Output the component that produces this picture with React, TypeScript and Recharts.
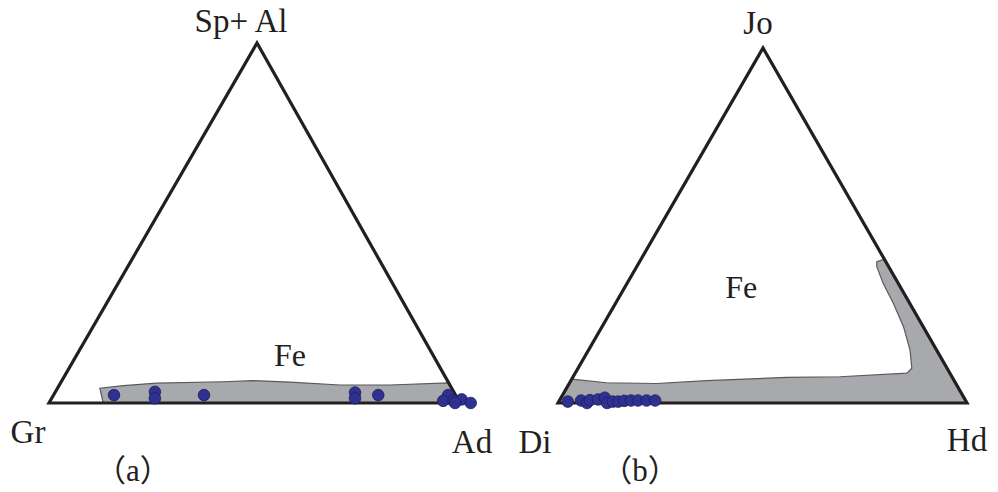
import React from 'react';
import { ScatterChart, Scatter, XAxis, YAxis } from 'recharts';

// ---------- Diagram (a): Gr – Ad – Sp+Al (garnet) ----------
const aCornerLabels = ['Gr', 'Ad', 'Sp+ Al'];
const aFieldLabel = 'Fe';
const aCaption = '（a）';
// sample compositions (%): Ad and Sp+Al (Gr = 100 - Ad - Sp+Al)
const aAd = [14.7, 24.2, 25.1, 36.6, 73.0, 73.8, 79.0, 96.0, 95.6, 98.1, 99.9, 98.8, 102.6];
const aSpAl = [2.2, 3.1, 1.3, 2.2, 2.9, 1.3, 2.2, 2.2, 0.6, 0.6, 1.0, 0, 0];
// Fe skarn field outline
const aFieldAd = [13.2, 10.3, 15.7, 23.4, 39.4, 46.5, 55.7, 68.3, 80.4, 94.4, 100];
const aFieldSpAl = [0, 4.1, 4.8, 5.5, 5.9, 6.2, 5.8, 5.0, 5.0, 5.6, 0];
const aFieldLabelAd = 53.4;
const aFieldLabelSpAl = 10.3;

// ---------- Diagram (b): Di – Hd – Jo (pyroxene) ----------
const bCornerLabels = ['Di', 'Hd', 'Jo'];
const bFieldLabel = 'Fe';
const bCaption = '（b）';
const bHd = [2.2, 5.3, 7.1, 7.4, 9.3, 10.7, 12.0, 13.2, 14.5, 15.9, 17.5, 19.2, 21.3, 23.4];
const bJo = [0.4, 0.7, 0, 0.8, 1.0, 1.5, 0, 0.4, 0.4, 0.6, 0.7, 0.7, 0.7, 0.7];
const bFieldHd = [0, 9.0, 21.4, 33.2, 52.3, 65.2, 81.1, 81.6, 78.6, 73.7, 67.9, 62.6, 58.7, 58.0, 59.5, 100, 0];
const bFieldJo = [6.7, 5.7, 5.5, 6.3, 7.2, 7.4, 8.4, 9.8, 14.9, 21.5, 28.1, 33.7, 38.4, 39.8, 40.5, 0, 0];
const bFieldLabelHd = 29.9;
const bFieldLabelJo = 29.7;

// ---------- layout ----------
const W = 998;
const H = 492;
type Frame = { L: [number, number]; R: [number, number]; T: [number, number] };
const FRAME_A: Frame = { L: [49, 403], R: [460, 403], T: [257, 43] };
const FRAME_B: Frame = { L: [558, 403], R: [967, 403], T: [763, 48] };

function axes(f: Frame) {
  const bx = f.R[0] - f.L[0];
  const hy = f.L[1] - f.T[1];
  return {
    xDomain: [(0 - f.L[0]) / bx, (W - f.L[0]) / bx] as [number, number],
    yDomain: [(f.L[1] - H) / hy, f.L[1] / hy] as [number, number],
    skew: (f.T[0] - f.L[0]) / bx,
  };
}
const AX_A = axes(FRAME_A);
const AX_B = axes(FRAME_B);

// ternary (right %, top %) -> chart coordinates
const toXY = (right: number, top: number, skew: number) => ({
  x: right / 100 + (top / 100) * skew,
  y: top / 100,
});

const triangle = (skew: number) => [toXY(0, 0, skew), toXY(100, 0, skew), toXY(0, 100, skew)];

const INK = '#231f20';
const SERIF = "'Liberation Serif', 'Times New Roman', 'Noto Sans CJK SC', serif";

const polygonLine = (fill: string, stroke: string, strokeWidth: number) => (props: any) => {
  const pts = (props.points || []).map((p: any) => `${p.x},${p.y}`).join(' ');
  return (
    <polygon
      points={pts}
      fill={fill}
      stroke={stroke}
      strokeWidth={strokeWidth}
      strokeLinejoin="miter"
    />
  );
};

const NoShape = () => <g />;

const Dot = (props: any) => (
  <circle cx={props.cx} cy={props.cy} r={5.8} fill="#2e3192" stroke="#1c1e55" strokeWidth={0.8} />
);

const TextShape = (props: any) => {
  const p = props.payload;
  return (
    <text
      x={props.cx + p.dx}
      y={props.cy + p.dy}
      textAnchor="middle"
      fontFamily={SERIF}
      fontSize={p.size}
      fill={INK}
    >
      {p.text}
    </text>
  );
};

// datasets
const aPoints = aAd.map((v, i) => toXY(v, aSpAl[i], AX_A.skew));
const aField = aFieldAd.map((v, i) => toXY(v, aFieldSpAl[i], AX_A.skew));
const bPoints = bHd.map((v, i) => toXY(v, bJo[i], AX_B.skew));
const bField = bFieldHd.map((v, i) => toXY(v, bFieldJo[i], AX_B.skew));

const aLabels = [
  { ...toXY(0, 0, AX_A.skew), text: aCornerLabels[0], dx: -21, dy: 40, size: 33 },
  { ...toXY(100, 0, AX_A.skew), text: aCornerLabels[1], dx: 12, dy: 50, size: 33 },
  { ...toXY(0, 100, AX_A.skew), text: aCornerLabels[2], dx: -16, dy: -11, size: 33 },
  { ...toXY(aFieldLabelAd, aFieldLabelSpAl, AX_A.skew), text: aFieldLabel, dx: 0, dy: 0, size: 32 },
  { ...toXY(0, 0, AX_A.skew), text: aCaption, dx: 84, dy: 78, size: 31 },
];
const bLabels = [
  { ...toXY(0, 0, AX_B.skew), text: bCornerLabels[0], dx: -23, dy: 50, size: 33 },
  { ...toXY(100, 0, AX_B.skew), text: bCornerLabels[1], dx: 0, dy: 48, size: 33 },
  { ...toXY(0, 100, AX_B.skew), text: bCornerLabels[2], dx: -5, dy: -14, size: 33 },
  { ...toXY(bFieldLabelHd, bFieldLabelJo, AX_B.skew), text: bFieldLabel, dx: 0, dy: 0, size: 32 },
  { ...toXY(0, 0, AX_B.skew), text: bCaption, dx: 82, dy: 78, size: 31 },
];

export default function App() {
  return (
    <div style={{ position: 'absolute', left: 0, top: 0, width: W, height: H, background: '#fff' }}>
      <ScatterChart width={W} height={H} margin={{ top: 0, right: 0, bottom: 0, left: 0 }}>
        <XAxis xAxisId="a" dataKey="x" type="number" domain={AX_A.xDomain} allowDataOverflow hide />
        <YAxis yAxisId="a" dataKey="y" type="number" domain={AX_A.yDomain} allowDataOverflow hide />
        <XAxis xAxisId="b" dataKey="x" type="number" domain={AX_B.xDomain} allowDataOverflow hide />
        <YAxis yAxisId="b" dataKey="y" type="number" domain={AX_B.yDomain} allowDataOverflow hide />

        <Scatter xAxisId="a" yAxisId="a" data={aField} shape={NoShape}
          line={polygonLine('#a7a9ac', '#58595b', 1.2)} isAnimationActive={false} />
        <Scatter xAxisId="a" yAxisId="a" data={triangle(AX_A.skew)} shape={NoShape}
          line={polygonLine('none', INK, 3.2)} isAnimationActive={false} />
        <Scatter xAxisId="a" yAxisId="a" data={aPoints} shape={Dot} isAnimationActive={false} />
        <Scatter xAxisId="a" yAxisId="a" data={aLabels} shape={TextShape} isAnimationActive={false} />

        <Scatter xAxisId="b" yAxisId="b" data={bField} shape={NoShape}
          line={polygonLine('#a7a9ac', '#58595b', 1.2)} isAnimationActive={false} />
        <Scatter xAxisId="b" yAxisId="b" data={triangle(AX_B.skew)} shape={NoShape}
          line={polygonLine('none', INK, 3.2)} isAnimationActive={false} />
        <Scatter xAxisId="b" yAxisId="b" data={bPoints} shape={Dot} isAnimationActive={false} />
        <Scatter xAxisId="b" yAxisId="b" data={bLabels} shape={TextShape} isAnimationActive={false} />
      </ScatterChart>
    </div>
  );
}
